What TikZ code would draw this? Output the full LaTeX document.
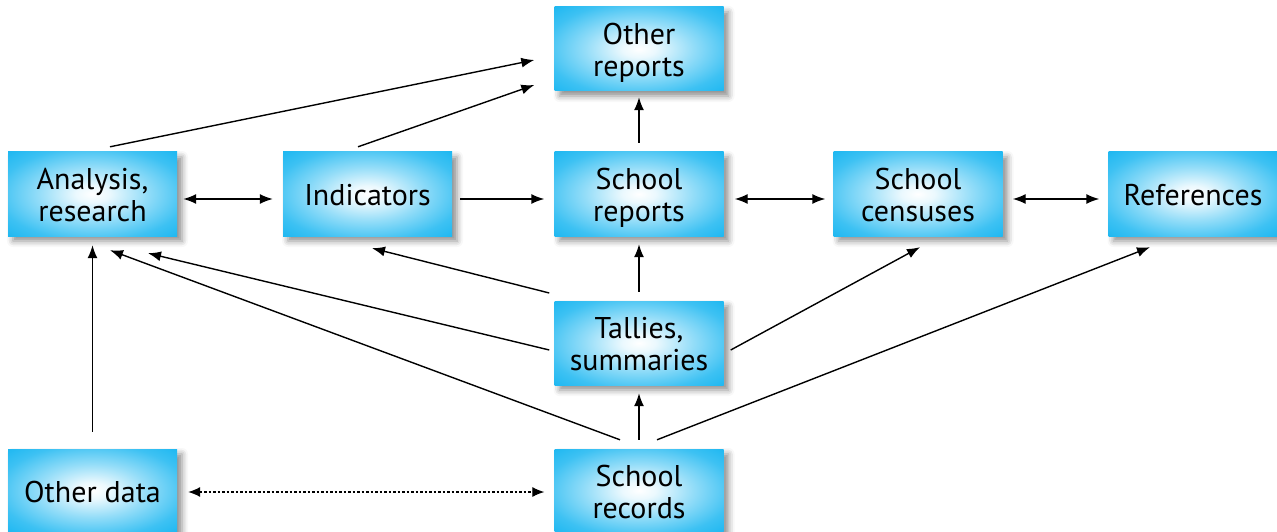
\documentclass[tikz,border=0pt]{standalone}
\usepackage{fontspec}
\setmainfont{PT Sans}
\usetikzlibrary{arrows.meta,calc,shadows.blur}
\definecolor{boxcyan}{RGB}{0,174,239}
\pgfdeclareradialshading{boxglow}{\pgfpoint{0bp}{0bp}}{%
  color(0bp)=(white); color(5bp)=(white!92!boxcyan); color(16bp)=(boxcyan!42!white);
  color(28bp)=(boxcyan!76!white); color(40bp)=(boxcyan!95!white); color(50bp)=(boxcyan)}
\newcommand\bxtext[1]{\raisebox{-5.5pt}[\height][\depth]{\begin{tabular}{@{}c@{}}#1\end{tabular}}}
\tikzset{
  box/.style={rectangle, minimum width=169pt, minimum height=84pt, inner sep=0pt,
    shading=boxglow,
    blur shadow={shadow xshift=5pt, shadow yshift=-5pt, shadow blur radius=6pt, shadow opacity=45},
    font=\fontsize{30}{32}\selectfont},
  conn/.style={line width=1.4pt, -{Latex[length=13pt,width=10pt]}},
  bconn/.style={line width=1.4pt, {Latex[length=13pt,width=10pt]}-{Latex[length=13pt,width=10pt]}},
  dconn/.style={line width=1.1pt, dash pattern=on 2.5pt off 2pt, {Latex[length=12pt,width=10pt]}-{Latex[length=12pt,width=10pt]}}
}
\begin{document}
\begin{tikzpicture}[x=1pt,y=-1pt]
\useasboundingbox (0,0) rectangle (1277,532);
\node[box] (orep) at (639,49) {\bxtext{Other\\reports}};
\node[box] (ana) at (92.5,194) {\bxtext{Analysis,\\research}};
\node[box] (ind) at (367.5,194) {\bxtext{Indicators}};
\node[box] (srep) at (639,194) {\bxtext{School\\reports}};
\node[box] (cens) at (918,194) {\bxtext{School\\censuses}};
\node[box] (refs) at (1193,194) {\bxtext{References}};
\node[box] (tal) at (639,343) {\bxtext{Tallies,\\summaries}};
\node[box, minimum height=83pt] (odat) at (92.5,490.5) {\bxtext{Other data}};
\node[box, minimum height=83pt] (srec) at (639,490.5) {\bxtext{School\\records}};

\draw[conn] ($(ana.north)+(17.5,-5)$) -- ($(orep.west)+(-20,11)$);
\draw[conn] ($(ind.north)+(-9.5,-5)$) -- ($(orep.west)+(-20,36)$);
\draw[conn] ($(srep.north)+(0,-9)$) -- ($(orep.south)+(0,6)$);
\draw[bconn] ($(ana.east)+(6,5)$) -- ($(ind.west)+(-10,5)$);
\draw[conn] ($(ind.east)+(8,5)$) -- ($(srep.west)+(-10,5)$);
\draw[bconn] ($(srep.east)+(11,5)$) -- ($(cens.west)+(-8,5)$);
\draw[bconn] ($(cens.east)+(10,5)$) -- ($(refs.west)+(-9,5)$);
\draw[conn] ($(tal.north)+(0,-9)$) -- ($(srep.south)+(0,8)$);
\draw[conn] ($(tal.west)+(-5,-50)$) -- ($(ind.south)+(4.5,12)$);
\draw[conn] ($(tal.west)+(-5,7)$) -- ($(ana.south)+(55.5,17)$);
\draw[conn] ($(tal.east)+(7,7)$) -- ($(cens.south)+(2,11)$);
\draw[conn] ($(srec.north)+(-19,-9)$) -- ($(ana.south)+(17.5,14)$);
\draw[conn] ($(srec.north)+(0,-9)$) -- ($(tal.south)+(0,8)$);
\draw[conn] ($(srec.north)+(18,-9)$) -- ($(refs.south)+(-43,11)$);
\draw[conn] ($(odat.north)+(0,-17)$) -- ($(ana.south)+(0,9)$);
\draw[dconn] ($(odat.east)+(11,1.5)$) -- ($(srec.west)+(-10,1.5)$);
\end{tikzpicture}
\end{document}
